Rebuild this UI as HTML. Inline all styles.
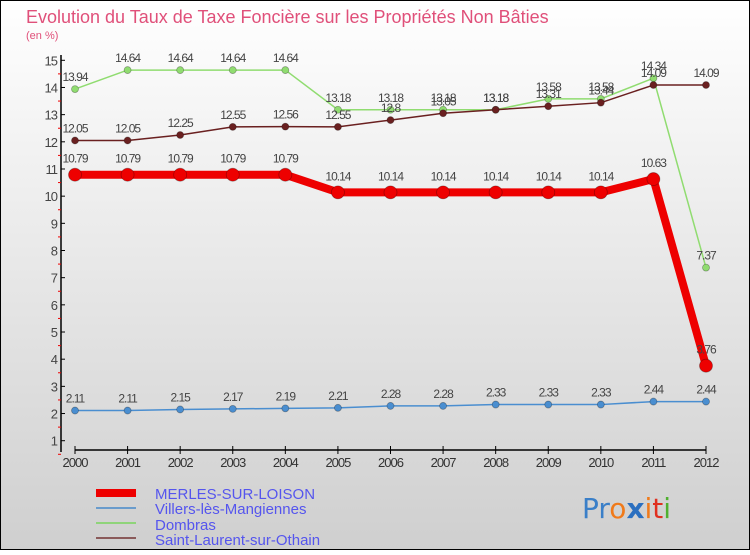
<!DOCTYPE html>
<html><head><meta charset="utf-8"><style>
body{margin:0;width:750px;height:550px;overflow:hidden;font-family:"Liberation Sans",sans-serif}
</style></head><body>
<svg id="chart" width="750" height="550" xmlns="http://www.w3.org/2000/svg">
<defs><linearGradient id="bg" x1="0" y1="0" x2="0" y2="1"><stop offset="0" stop-color="#ffffff"/><stop offset="1" stop-color="#cfcfcf"/></linearGradient></defs>
<rect x="0" y="0" width="750" height="550" fill="url(#bg)" stroke="#000" stroke-width="2"/>
<text x="26" y="23" font-size="18" fill="#e0507a">Evolution du Taux de Taxe Foncière sur les Propriétés Non Bâties</text>
<text x="26" y="39" font-size="11" fill="#e0507a">(en %)</text>
<g id="axes"></g>
<g id="series"></g>
<g font-size="15" fill="#5555ee">
<rect x="96" y="489" width="40" height="8" fill="#ee0000"/>
<text x="155" y="499">MERLES-SUR-LOISON</text>
<rect x="96" y="507" width="40" height="2" fill="#6a9ccc"/>
<text x="155" y="514">Villers-lès-Mangiennes</text>
<rect x="96" y="522" width="40" height="2" fill="#8fd47a"/>
<text x="155" y="530">Dombras</text>
<rect x="96" y="537" width="40" height="2" fill="#8a5a5a"/>
<text x="155" y="545">Saint-Laurent-sur-Othain</text>
</g>
<text x="582" y="518" font-size="28" font-family="'DejaVu Sans',sans-serif"><tspan fill="#3a7fc8">Pr</tspan><tspan fill="#f07a1a">o</tspan><tspan fill="#2a6fc0" font-weight="bold">x</tspan><tspan fill="#f07a1a">i</tspan><tspan fill="#e03020">t</tspan><tspan fill="#50b030">i</tspan></text>
</svg>
<script>
const years=[2000,2001,2002,2003,2004,2005,2006,2007,2008,2009,2010,2011,2012];
const yTicks=[1,2,3,4,5,6,7,8,9,10,11,12,13,14,15];
const merles=[10.79,10.79,10.79,10.79,10.79,10.14,10.14,10.14,10.14,10.14,10.14,10.63,3.76];
const villers=[2.11,2.11,2.15,2.17,2.19,2.21,2.28,2.28,2.33,2.33,2.33,2.44,2.44];
const dombras=[13.94,14.64,14.64,14.64,14.64,13.18,13.18,13.18,13.18,13.58,13.58,14.34,7.37];
const stlaurent=[12.05,12.05,12.25,12.55,12.56,12.55,12.8,13.05,13.18,13.31,13.44,14.09,14.09];
const NS="http://www.w3.org/2000/svg";
const xs=i=>75+i*(706-75)/(years.length-1);
const ys=v=>440.7-(v-1)*(440.7-60.3)/14;
function mk(t,a,p){const e=document.createElementNS(NS,t);for(const k in a)e.setAttribute(k,a[k]);p.appendChild(e);return e;}
const ax=document.getElementById('axes');
const yl=mk('line',{x1:61,y1:55,x2:61,y2:452,stroke:'#000','stroke-width':1.5},ax);


const xl=mk('line',{x1:75,y1:450,x2:706,y2:450,stroke:'#000','stroke-width':1.5},ax);


yTicks.forEach(v=>{
 mk('line',{x1:61,y1:ys(v),x2:65,y2:ys(v),stroke:'#000'},ax);
 if(v<yTicks[yTicks.length-1]) mk('line',{x1:58,y1:ys(v+0.5),x2:61,y2:ys(v+0.5),stroke:'#e00'},ax);
 const t=mk('text',{x:57,y:ys(v)+5,'font-size':13,'text-anchor':'end',fill:'#444','letter-spacing':'-1'},ax);
 t.textContent=v;
 
 
});
mk('line',{x1:58,y1:ys(0.5),x2:61,y2:ys(0.5),stroke:'#e00'},ax);
years.forEach((y,i)=>{
 mk('line',{x1:xs(i),y1:446,x2:xs(i),y2:454,stroke:'#000'},ax);
 const t=mk('text',{x:xs(i),y:467,'font-size':13,'text-anchor':'middle',fill:'#333','letter-spacing':'-1'},ax);
 t.textContent=y;
 
 
});
const sg=document.getElementById('series');
function series(vals,name,color,w,r,labOff){
 const g=mk('g',{},sg);
 
 
 const pl=mk('polyline',{points:vals.map((v,i)=>xs(i)+','+ys(v)).join(' '),fill:'none',stroke:color,'stroke-width':w,'stroke-linejoin':'round'},g);
 
 
 vals.forEach((v,i)=>{
  const c=mk('circle',{cx:xs(i),cy:ys(v),r:r,fill:color,stroke:'rgba(0,0,0,0.3)','stroke-width':0.8},g);
  
  
  const t=mk('text',{x:xs(i),y:ys(v)-labOff,'font-size':12,'text-anchor':'middle',fill:'#444','letter-spacing':'-1'},g);
  t.textContent=String(v);
  
  
 });
}
series(villers,'villers','#4a8ed0',1.5,3.5,8);
series(dombras,'dombras','#90dc70',1.5,3.5,8);
series(stlaurent,'saint-laurent','#6a2020',1.5,3.5,8);
series(merles,'merles','#ee0000',8,6.5,12);
</script>
</body></html>
